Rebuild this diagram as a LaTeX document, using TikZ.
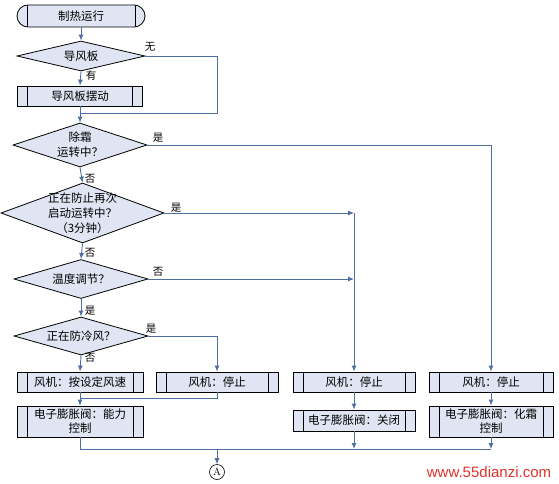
\documentclass[tikz,border=0pt]{standalone}
\usepackage{fontspec}
\newfontfamily\cjk{Noto Sans CJK SC}
\newfontfamily\wmfont{Liberation Sans}
\usetikzlibrary{shapes.geometric,shapes.misc,arrows.meta,calc}
\definecolor{lineblue}{HTML}{4F6FA3}
\definecolor{boxfill}{HTML}{DFE5F2}
\definecolor{wmred}{HTML}{E0322B}
\tikzset{
  base/.style={draw=black, line width=0.8pt, fill=boxfill, inner sep=0pt, font=\cjk\fontsize{11.5}{14}\selectfont, align=center},
  termbox/.style={base, rounded rectangle, minimum width=128pt, minimum height=22pt,
    path picture={\draw[black, line width=0.8pt] ([xshift=10pt]path picture bounding box.north west) -- ([xshift=10pt]path picture bounding box.south west);
                  \draw[black, line width=0.8pt] ([xshift=-10pt]path picture bounding box.north east) -- ([xshift=-10pt]path picture bounding box.south east);}},
  procbox/.style={base, rectangle, minimum height=20pt,
    path picture={\draw[black, line width=0.8pt] ([xshift=10pt]path picture bounding box.north west) -- ([xshift=10pt]path picture bounding box.south west);
                  \draw[black, line width=0.8pt] ([xshift=-10pt]path picture bounding box.north east) -- ([xshift=-10pt]path picture bounding box.south east);}},
  decbox/.style={base, diamond, shape aspect=3},
  dtext/.style={inner sep=0pt, font=\cjk\fontsize{11.5}{15}\selectfont, align=center},
  lbl/.style={inner sep=0pt, font=\cjk\fontsize{10.5}{12}\selectfont},
  conn/.style={draw=lineblue, line width=0.9pt},
  arr/.style={conn, -{Latex[length=6pt,width=5pt]}},
  endc/.style={draw=black, line width=0.6pt, circle, minimum size=15pt, inner sep=0pt, font=\fontsize{10.5}{12}\selectfont}
}
\begin{document}
\begin{tikzpicture}[x=1pt,y=-1pt]
\useasboundingbox (0,0) rectangle (559,484);
% nodes
\node[termbox] (start) at (81,16) {制热运行};
\node[decbox, minimum width=128pt, minimum height=30pt] (d1) at (81,56) {};
\node[dtext] (d1t) at (d1) {导风板};
\node[procbox, minimum width=125pt] (p1) at (80,96) {导风板摆动};
\node[decbox, minimum width=134pt, minimum height=44pt] (d2) at (80,145) {};
\node[dtext] (d2t) at (d2) {除霜\\运转中？};
\node[decbox, minimum width=163pt, minimum height=60pt] (d3) at (82.5,213) {};
\node[dtext] (d3t) at (d3) {正在防止再次\\启动运转中？\\（3分钟）};
\node[decbox, minimum width=134pt, minimum height=39pt] (d4) at (81,279) {};
\node[dtext] (d4t) at (d4) {温度调节？};
\node[decbox, minimum width=134pt, minimum height=38pt] (d5) at (81,336) {};
\node[dtext] (d5t) at (d5) {正在防冷风？};
\node[procbox, minimum width=126pt] (f1) at (80,382) {风机：按设定风速};
\node[procbox, minimum width=122pt] (f2) at (217,382) {风机：停止};
\node[procbox, minimum width=122pt] (f3) at (354,382) {风机：停止};
\node[procbox, minimum width=124pt] (f4) at (491,382) {风机：停止};
\node[procbox, minimum width=126pt, minimum height=31pt] (v1) at (80,421.5) {电子膨胀阀：能力\\控制};
\node[procbox, minimum width=122pt, minimum height=21pt] (v3) at (354,420.5) {电子膨胀阀：关闭};
\node[procbox, minimum width=124pt, minimum height=31pt] (v4) at (491,421.5) {电子膨胀阀：化霜\\控制};
\node[endc] (A) at (217,472) {A};
% helper coordinates
\coordinate (loopc) at (217,113);
\coordinate (j1) at (80,113);
\coordinate (k3) at (354,213);
\coordinate (k4) at (354,279);
\coordinate (j2) at (80,398);
\coordinate (busm) at (354,449);
\coordinate (busa) at (217,449);
\coordinate (busr) at (491,449);
% connectors
\draw[arr] (start.south) -- (d1.north);
\draw[arr] (d1.south) -- (p1.north);
\draw[conn] (d1.east) -| (loopc) -- (j1);
\draw[arr] (p1.south) -- (d2.north);
\draw[arr] (d2.south) -- (d3.north);
\draw[arr] (d2.east) -| (f4.north);
\draw[arr] (d3.south) -- (d4.north);
\draw[arr] (d3.east) -- (k3);
\draw[arr] (k3) -- (f3.north);
\draw[arr] (d4.east) -- (k4);
\draw[arr] (d4.south) -- (d5.north);
\draw[arr] (d5.east) -| (f2.north);
\draw[arr] (d5.south) -- (f1.north);
\draw[arr] (f1.south) -- (v1.north);
\draw[conn] (f2.south) |- (j2);
\draw[arr] (f3.south) -- (v3.north);
\draw[arr] (f4.south) -- (v4.north);
\draw[conn] (v1.south) |- (busr);
\draw[arr] (v3.south) -- (busm);
\draw[arr] (v4.south) -- (busr);
\draw[arr] (busa) -- (A.north);
% labels
\node[lbl] (l1) at (150,47) {无};
\node[lbl] (l2) at (91,76) {有};
\node[lbl] (l3) at (158,138) {是};
\node[lbl] (l4) at (90,179) {否};
\node[lbl] (l5) at (176,208) {是};
\node[lbl] (l6) at (90,253) {否};
\node[lbl] (l7) at (158,272) {否};
\node[lbl] (l8) at (90,311) {是};
\node[lbl] (l9) at (151,329) {是};
\node[lbl] (l10) at (90,358) {否};
% watermark
\node[inner sep=0pt, text=wmred, font=\wmfont\fontsize{15}{16}\selectfont] (wm) at (489,472) {www.55dianzi.com};
\end{tikzpicture}
\end{document}
